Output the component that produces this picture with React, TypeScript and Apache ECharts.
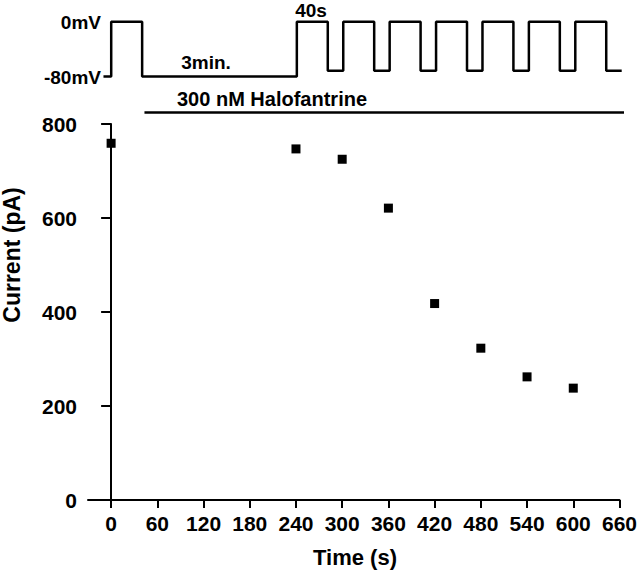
import React, { useEffect, useRef } from "react";
import * as echarts from "echarts";

// Measured current vs time
const times = [0, 240, 300, 360, 420, 480, 540, 600];
const currents = [759, 747, 725, 621, 418, 323, 262, 238];

// Axis ticks
const xTicks = [0, 60, 120, 180, 240, 300, 360, 420, 480, 540, 600, 660];

// Voltage protocol (time in s, level in mV as drawn)
const protocolTimes = [-10, 0, 0, 40, 40, 240, 240, 280, 280, 300, 300, 340, 340, 360, 360, 400, 400, 420, 420, 460, 460, 480, 480, 520, 520, 540, 540, 580, 580, 600, 600, 640, 640, 660];
const protocolLevels = [-80, -80, 0, 0, -80, -80, 0, 0, -71.5, -71.5, 0, 0, -71.5, -71.5, 0, 0, -71.5, -71.5, 0, 0, -71.5, -71.5, 0, 0, -71.5, -71.5, 0, 0, -71.5, -71.5, 0, 0, -71.5, -71.5];

// Drug application bar
const drugStart = 43;
const drugEnd = 664;
const drugLevel = -132.5;

const FONT = '"Liberation Sans", Arial, sans-serif';

export default function App() {
  const ref = useRef<HTMLDivElement>(null);
  useEffect(() => {
    document.body.style.margin = "0";
    if (!ref.current) return;
    const chart = echarts.init(ref.current, undefined, { renderer: "svg" });
    const labelStyle = { color: "#000", fontFamily: FONT, fontWeight: "bold" as const, fontSize: 21 };
    const txt = (text: string, x: number, y: number, size: number, align: string, rotation = 0) => ({
      type: "text",
      x,
      y,
      rotation,
      style: {
        text,
        fill: "#000",
        font: `bold ${size}px ${FONT}`,
        align,
        textAlign: align,
        verticalAlign: "middle",
        textVerticalAlign: "middle",
      },
    });
    chart.setOption({
      animation: false,
      backgroundColor: "#fff",
      grid: [
        { left: 88, right: 18.3, top: 124, bottom: 70 },
        { left: 88, right: 18.3, top: 21.7, height: 90.8 },
      ],
      xAxis: [
        {
          type: "value",
          gridIndex: 0,
          min: -30,
          max: 660,
          axisLine: { show: true, onZero: false, lineStyle: { color: "#000", width: 2 } },
          axisTick: { show: true, customValues: xTicks, length: 8, lineStyle: { color: "#000", width: 2 } },
          axisLabel: { ...labelStyle, customValues: xTicks, margin: 13 },
          splitLine: { show: false },
        },
        { type: "value", gridIndex: 1, min: -30, max: 660, show: false },
      ],
      yAxis: [
        {
          type: "value",
          gridIndex: 0,
          min: 0,
          max: 800,
          interval: 200,
          axisLine: { show: true, lineStyle: { color: "#000", width: 2 } },
          axisTick: { show: true, length: 10, lineStyle: { color: "#000", width: 2 } },
          axisLabel: { ...labelStyle, margin: 11 },
          splitLine: { show: false },
        },
        { type: "value", gridIndex: 1, min: drugLevel, max: 0, show: false },
      ],
      series: [
        {
          type: "scatter",
          xAxisIndex: 0,
          yAxisIndex: 0,
          symbol: "rect",
          symbolSize: 9,
          itemStyle: { color: "#000", opacity: 1 },
          data: times.map((t, i) => [t, currents[i]]),
        },
        {
          type: "line",
          xAxisIndex: 1,
          yAxisIndex: 1,
          symbol: "none",
          clip: false,
          lineStyle: { color: "#000", width: 2.5 },
          data: protocolTimes.map((t, i) => [t, protocolLevels[i]]),
        },
        {
          type: "line",
          xAxisIndex: 1,
          yAxisIndex: 1,
          symbol: "none",
          clip: false,
          lineStyle: { color: "#000", width: 2.5 },
          data: [
            [drugStart, drugLevel],
            [drugEnd, drugLevel],
          ],
        },
      ],
      graphic: [
        txt("0mV", 101, 22, 19, "right"),
        txt("-80mV", 101, 77, 19, "right"),
        txt("3min.", 206, 62, 19, "center"),
        txt("40s", 311, 10, 19, "center"),
        txt("300 nM Halofantrine", 177, 99, 20, "left"),
        txt("Time (s)", 355, 557, 22, "center"),
        txt("Current (pA)", 12, 255, 23, "center", Math.PI / 2),
      ],
    });
    return () => chart.dispose();
  }, []);
  return <div ref={ref} style={{ width: 640, height: 570 }} />;
}
